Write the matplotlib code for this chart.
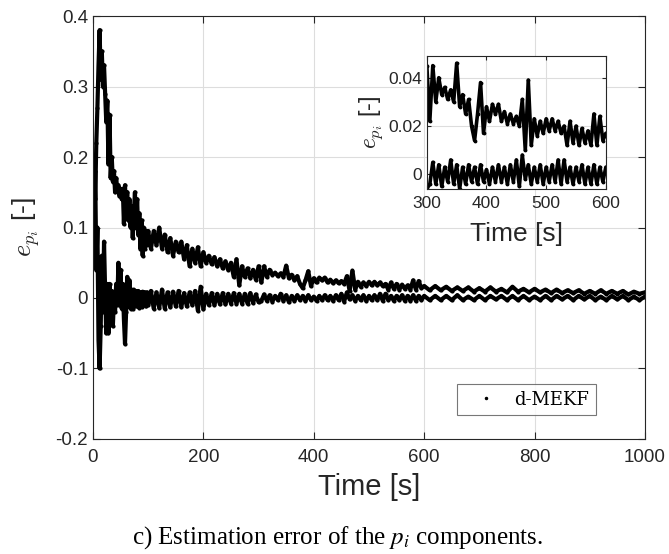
import numpy as np
import matplotlib
matplotlib.use("Agg")
import matplotlib.pyplot as plt
from matplotlib.ticker import FuncFormatter

plt.rcParams["font.family"] = ["Liberation Sans", "DejaVu Sans"]
plt.rcParams["axes.unicode_minus"] = False
plt.rcParams["mathtext.fontset"] = "cm"

# --- values (time [s], error [-]) ---
# early part, 2 s apart
t_early = list(range(0, 101, 2))
upper_early = [0.15, 0.19, 0.14, 0.22, 0.27, 0.33, 0.38, 0.31, 0.35, 0.30,
               0.33, 0.29, 0.25, 0.28, 0.19, 0.26, 0.17, 0.20, 0.165, 0.18,
               0.15, 0.17, 0.155, 0.16, 0.145, 0.155, 0.14, 0.155, 0.105, 0.16,
               0.12, 0.15, 0.11, 0.14, 0.10, 0.13, 0.085, 0.12, 0.15, 0.10,
               0.14, 0.09, 0.12, 0.07, 0.11, 0.06, 0.10, 0.07, 0.095, 0.075,
               0.095]
lower_early = [0.17, 0.11, 0.18, 0.04, 0.10, -0.06, -0.10, -0.04, 0.06, -0.02,
               0.08, 0.01, -0.05, 0.02, -0.05, 0.02, -0.03, 0.01, -0.04, 0.0,
               -0.02, 0.02, -0.01, 0.05, -0.01, 0.04, -0.015, 0.02, -0.03, -0.065,
               -0.02, 0.03, -0.01, 0.025, -0.015, 0.012, -0.015, 0.012, -0.012, 0.01,
               -0.012, 0.01, -0.014, 0.008, -0.013, 0.009, -0.01, 0.008, -0.012, 0.008,
               -0.01]

# 100-600 s, 5 s apart
t_mid = list(range(105, 601, 5))
upper_mid = [0.07, 0.095, 0.075, 0.10, 0.07, 0.09, 0.065, 0.085, 0.06, 0.08,
             0.065, 0.08, 0.055, 0.075, 0.045, 0.07, 0.05, 0.072, 0.045, 0.065,
             0.05, 0.06, 0.048, 0.058, 0.045, 0.055, 0.042, 0.052, 0.04, 0.05,
             0.03, 0.055, 0.018, 0.045, 0.03, 0.042, 0.028, 0.04, 0.026, 0.045,
             0.022, 0.045, 0.03, 0.04, 0.033, 0.036, 0.031, 0.035, 0.03, 0.046,
             0.028, 0.033, 0.025, 0.031, 0.02, 0.014, 0.025, 0.038, 0.017, 0.028,
             0.022, 0.029, 0.025, 0.029, 0.022, 0.026, 0.021, 0.025, 0.021, 0.024,
             0.02, 0.031, 0.01, 0.039, 0.012, 0.023, 0.016, 0.022, 0.017, 0.023,
             0.018, 0.023, 0.018, 0.022, 0.017, 0.02, 0.012, 0.022, 0.013, 0.02,
             0.012, 0.019, 0.013, 0.018, 0.012, 0.025, 0.012, 0.024, 0.014, 0.017]
lower_mid = [0.01, -0.015, 0.008, -0.014, 0.012, -0.015, 0.008, -0.013, 0.009, -0.012,
             0.01, -0.013, 0.007, -0.012, 0.008, -0.01, 0.01, -0.018, 0.016, -0.016,
             0.006, -0.01, 0.007, -0.01, 0.006, -0.009, 0.007, -0.009, 0.006, -0.008,
             0.007, -0.008, 0.006, -0.008, 0.006, -0.008, 0.007, -0.007, 0.005, -0.006,
             -0.004, 0.005, -0.004, 0.004, -0.005, 0.003, -0.003, 0.006, -0.004, 0.004,
             -0.006, 0.003, -0.004, 0.004, -0.003, 0.003, -0.004, 0.004, -0.003, 0.002,
             -0.004, 0.003, -0.003, 0.004, -0.003, 0.003, -0.004, 0.004, -0.003, 0.006,
             -0.005, 0.008, -0.002, 0.004, -0.004, 0.003, -0.003, 0.004, -0.004, 0.003,
             -0.003, 0.004, -0.003, 0.006, -0.004, 0.006, -0.003, 0.003, -0.004, 0.003,
             -0.003, 0.004, -0.004, 0.003, -0.004, 0.004, -0.004, 0.003, -0.003, 0.003]

# 600-1000 s, 10 s apart
t_late = list(range(610, 1001, 10))
upper_late = [0.011, 0.017, 0.011, 0.016, 0.01, 0.015, 0.01, 0.015, 0.009, 0.014,
              0.009, 0.015, 0.009, 0.013, 0.008, 0.016, 0.009, 0.013, 0.008, 0.013,
              0.008, 0.012, 0.007, 0.012, 0.007, 0.011, 0.007, 0.011, 0.006, 0.01,
              0.006, 0.011, 0.006, 0.01, 0.006, 0.01, 0.005, 0.009, 0.006, 0.008]
lower_late = [-0.003, 0.003, -0.003, 0.003, -0.003, 0.004, -0.003, 0.002, -0.003, 0.003,
              -0.003, 0.003, -0.002, 0.003, -0.003, 0.003, -0.003, 0.003, -0.003, 0.002,
              -0.003, 0.003, -0.003, 0.003, -0.002, 0.003, -0.003, 0.003, -0.002, 0.003,
              -0.003, 0.002, -0.003, 0.003, -0.002, 0.003, -0.003, 0.002, -0.003, 0.002]

time = np.array(t_early + t_mid + t_late, dtype=float)
e_upper = np.array(upper_early + upper_mid + upper_late)
e_lower = np.array(lower_early + lower_mid + lower_late)

grey = "#262626"
fmt = FuncFormatter(lambda v, pos: f"{v:g}")


def rysuj(ax, lw, ms):
    for e in (e_upper, e_lower):
        ax.plot(time, e, color="black", lw=lw, marker=".", ms=ms,
                solid_joinstyle="round")
    ax.grid(True, color="#dddddd", lw=0.8)
    ax.set_axisbelow(True)
    ax.tick_params(direction="in", top=True, right=True, colors=grey,
                   length=5, width=0.8)
    for s in ax.spines.values():
        s.set_color(grey)
        s.set_linewidth(0.8)
    ax.yaxis.set_major_formatter(fmt)


fig = plt.figure(figsize=(6.69, 5.54), dpi=100)
ax = fig.add_axes([0.139, 0.2076, 0.825, 0.7635])
rysuj(ax, 3.0, 4)
ax.set_xlim(0, 1000)
ax.set_ylim(-0.2, 0.4)
ax.set_xticks([0, 200, 400, 600, 800, 1000])
ax.set_yticks([-0.2, -0.1, 0, 0.1, 0.2, 0.3, 0.4])
ax.tick_params(labelsize=13.5)
ax.tick_params(axis="x", pad=7)
ax.set_xlabel("Time [s]", fontsize=21, color=grey, labelpad=5)
ax.set_ylabel(r"$e_{p_i}$ [-]", fontsize=19, color=grey, labelpad=10)

leg_h, = ax.plot([], [], ".", color="black", ms=3, label="d-MEKF")
leg = ax.legend(handles=[leg_h], loc="lower right",
                bbox_to_anchor=(0.911, 0.057), borderaxespad=0,
                frameon=True, fancybox=False,
                prop={"family": "serif", "size": 13}, handlelength=2.5,
                borderpad=0.35, handletextpad=0.35)
leg.get_frame().set_edgecolor("#555555")
leg.get_frame().set_linewidth(0.8)

ins = fig.add_axes([0.638, 0.659, 0.2676, 0.240])
rysuj(ins, 2.6, 3.5)
ins.set_xlim(300, 600)
ins.set_ylim(-0.006, 0.049)
ins.set_xticks([300, 400, 500, 600])
ins.set_yticks([0, 0.02, 0.04])
ins.tick_params(labelsize=12.5, length=3)
ins.tick_params(axis="x", pad=5)
ins.set_xlabel("Time [s]", fontsize=19, color=grey, labelpad=8)
ins.set_ylabel(r"$e_{p_i}$ [-]", fontsize=17, color=grey, labelpad=2)

fig.text(0.505, 0.018, r"c) Estimation error of the $p_i$ components.",
         ha="center", va="baseline", fontsize=18, family="Liberation Serif",
         math_fontfamily="stix")

fig.savefig("out.png", dpi=100)
